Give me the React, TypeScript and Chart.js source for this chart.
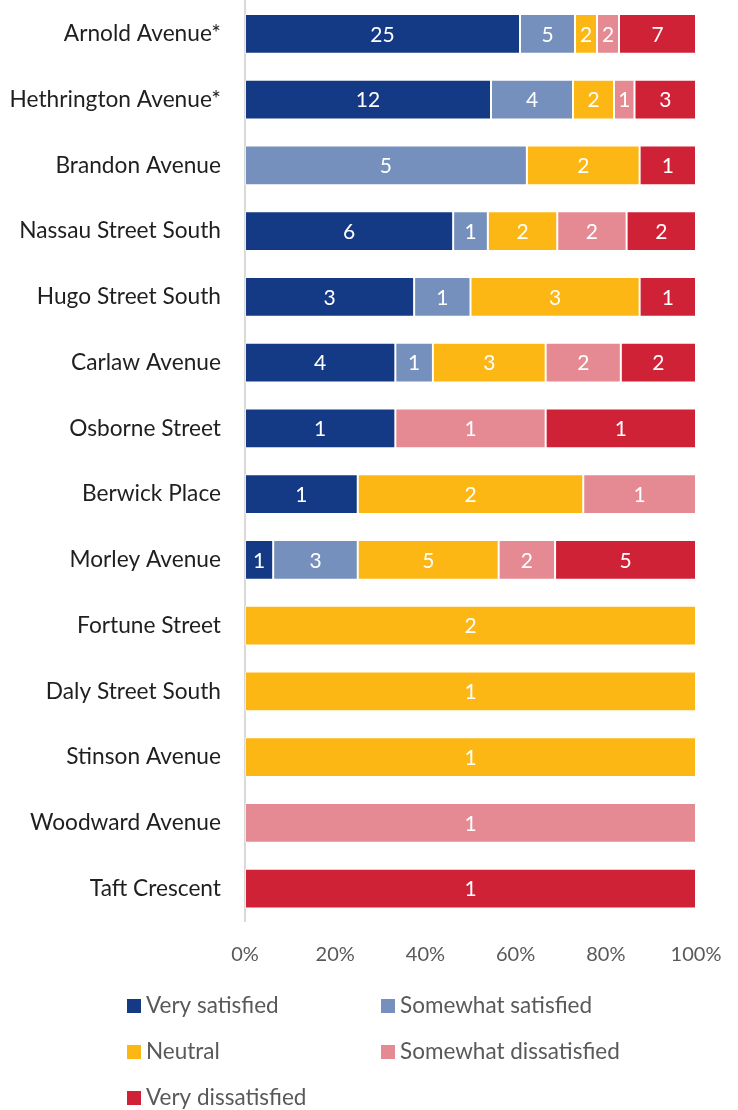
import React, { useEffect, useRef } from "react";
import { Chart, registerables } from "chart.js";

Chart.register(...registerables);

const categories = [
  "Arnold Avenue*",
  "Hethrington Avenue*",
  "Brandon Avenue",
  "Nassau Street South",
  "Hugo Street South",
  "Carlaw Avenue",
  "Osborne Street",
  "Berwick Place",
  "Morley Avenue",
  "Fortune Street",
  "Daly Street South",
  "Stinson Avenue",
  "Woodward Avenue",
  "Taft Crescent",
];

const verySatisfied = [25, 12, 0, 6, 3, 4, 1, 1, 1, 0, 0, 0, 0, 0];
const somewhatSatisfied = [5, 4, 5, 1, 1, 1, 0, 0, 3, 0, 0, 0, 0, 0];
const neutral = [2, 2, 2, 2, 3, 3, 0, 2, 5, 2, 1, 1, 0, 0];
const somewhatDissatisfied = [2, 1, 0, 2, 0, 2, 1, 1, 2, 0, 0, 0, 1, 0];
const veryDissatisfied = [7, 3, 1, 2, 1, 2, 1, 0, 5, 0, 0, 0, 0, 1];

const seriesNames = [
  "Very satisfied",
  "Somewhat satisfied",
  "Neutral",
  "Somewhat dissatisfied",
  "Very dissatisfied",
];
const seriesColors = ["#153A85", "#7690BD", "#FDB714", "#E58A92", "#D02237"];
const xTickLabels = ["0%", "20%", "40%", "60%", "80%", "100%"];

const FONT = "Lato";

const countLabelPlugin = {
  id: "countLabels",
  afterDatasetsDraw(chart: any) {
    const ctx = chart.ctx;
    ctx.save();
    ctx.font = `21px ${FONT}`;
    ctx.fillStyle = "#ffffff";
    ctx.textAlign = "center";
    ctx.textBaseline = "middle";
    chart.data.datasets.forEach((ds: any, di: number) => {
      const meta = chart.getDatasetMeta(di);
      meta.data.forEach((el: any, i: number) => {
        const c = ds.counts[i];
        if (!c) return;
        const p = el.getCenterPoint();
        ctx.fillText(String(c), p.x, p.y + 1);
      });
    });
    ctx.restore();
  },
};

const legendPlugin = {
  id: "gridLegend",
  afterDraw(chart: any) {
    const ctx = chart.ctx;
    ctx.save();
    ctx.font = `22.5px ${FONT}`;
    ctx.textBaseline = "middle";
    ctx.textAlign = "left";
    const colX = [127, 381];
    const rowY = [1006, 1052, 1098];
    chart.data.datasets.forEach((ds: any, i: number) => {
      const x = colX[i % 2];
      const y = rowY[Math.floor(i / 2)];
      ctx.fillStyle = ds.backgroundColor;
      ctx.fillRect(x, y - 7, 14, 14);
      ctx.fillStyle = "#595959";
      ctx.fillText(ds.label, x + 19, y);
    });
    ctx.restore();
  },
};

export default function App() {
  const ref = useRef<HTMLCanvasElement | null>(null);
  useEffect(() => {
    if (!ref.current) return;
    const seriesCounts = [
      verySatisfied,
      somewhatSatisfied,
      neutral,
      somewhatDissatisfied,
      veryDissatisfied,
    ];
    const totals = categories.map((_, i) =>
      seriesCounts.reduce((s, arr) => s + arr[i], 0)
    );
    const datasets = seriesCounts.map((arr, si) => ({
      label: seriesNames[si],
      data: arr.map((v, i) => (v / totals[i]) * 100),
      counts: arr,
      backgroundColor: seriesColors[si],
      borderColor: "rgba(255,255,255,0.45)",
      borderWidth: 1,
      borderSkipped: false,
      barPercentage: 0.608,
      categoryPercentage: 1,
    }));
    const chart = new Chart(ref.current, {
      type: "bar",
      data: { labels: categories, datasets: datasets as any },
      options: {
        indexAxis: "y",
        animation: false,
        responsive: false,
        maintainAspectRatio: false,
        layout: { padding: { top: 1, right: 42, left: 0, bottom: 0 } },
        plugins: { legend: { display: false }, tooltip: { enabled: false } },
        scales: {
          x: {
            stacked: true,
            min: 0,
            max: 100,
            grid: { display: false, drawTicks: false },
            border: { display: false },
            afterFit(scale: any) {
              scale.height = 188.5;
              scale.paddingLeft = 0;
              scale.paddingRight = 0;
            },
            ticks: {
              stepSize: 20,
              padding: 21,
              color: "#595959",
              font: { family: FONT, size: 20 },
              callback: (_v: any, i: number) => xTickLabels[i],
            },
          },
          y: {
            stacked: true,
            grid: { display: false, drawTicks: false },
            border: { display: true, color: "#D9D9D9", width: 2 },
            afterFit(scale: any) {
              scale.width = 245;
              scale.paddingTop = 0;
              scale.paddingBottom = 0;
            },
            ticks: {
              padding: 24,
              color: "#1f1f1f",
              font: { family: FONT, size: 22.7 },
            },
          },
        },
      },
      plugins: [countLabelPlugin, legendPlugin],
    });
    return () => chart.destroy();
  }, []);
  return (
    <div style={{ position: "fixed", left: 0, top: 0, width: 738, height: 1110, background: "#fff" }}>
      <canvas ref={ref} width={738} height={1110} style={{ display: "block" }} />
    </div>
  );
}
